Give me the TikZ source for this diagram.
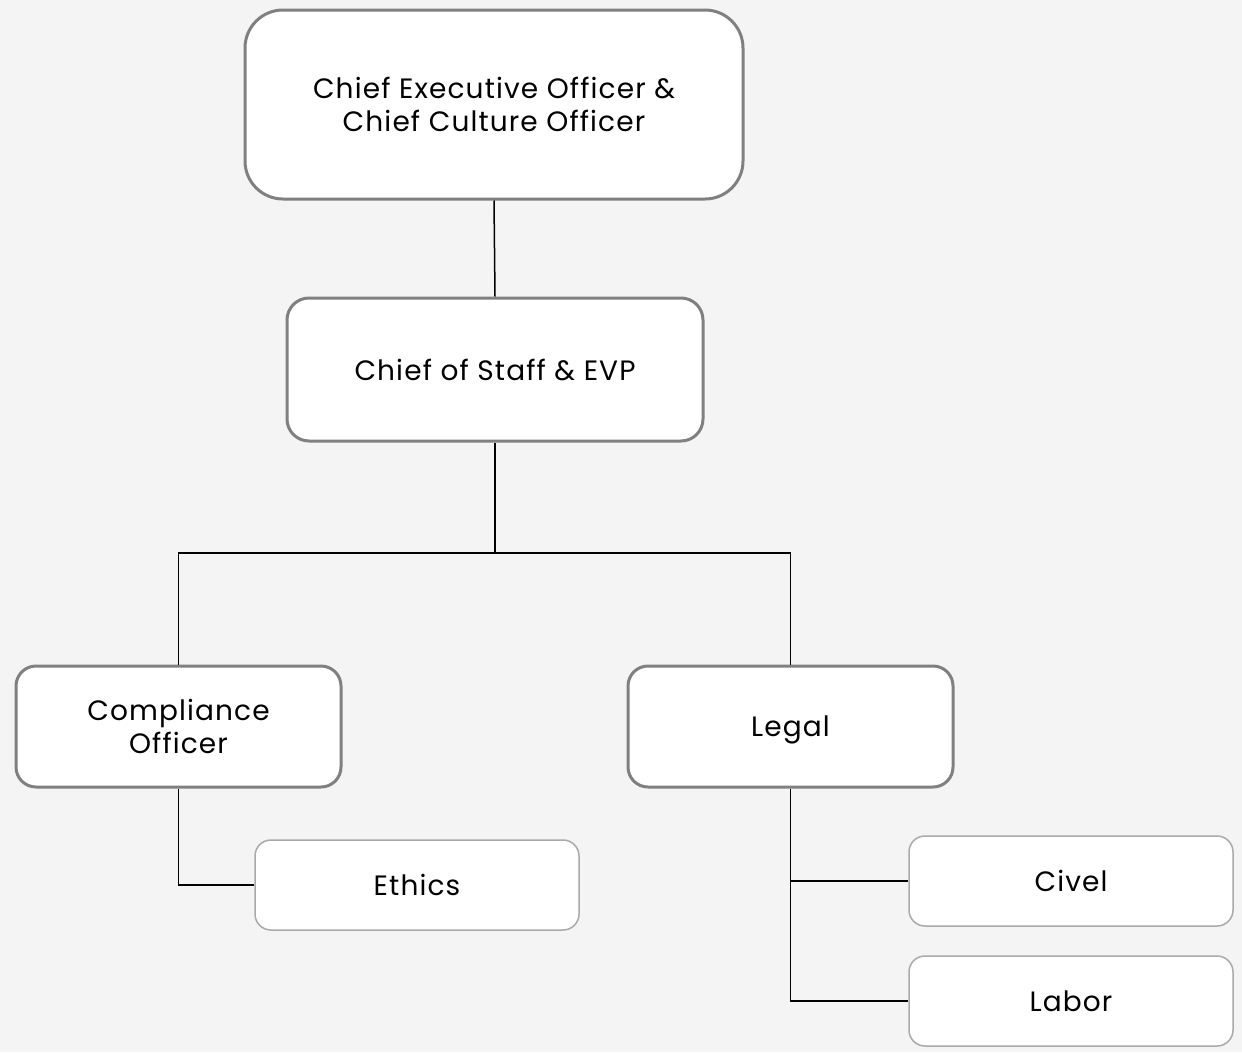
\documentclass[tikz,border=0pt]{standalone}
\usepackage{fontspec}
\setmainfont{Poppins}[LetterSpace=4]
\definecolor{bg}{HTML}{F4F4F4}
\definecolor{bordA}{HTML}{808080}
\definecolor{bordB}{HTML}{AAAAAA}
\begin{document}
\begin{tikzpicture}[x=1pt,y=-1pt,
  mainbox/.style={draw=bordA,line width=3pt,fill=white,align=center,font=\fontsize{28}{33}\selectfont,inner sep=0pt},
  subbox/.style={draw=bordB,line width=1.5pt,fill=white,align=center,font=\fontsize{28}{33}\selectfont,inner sep=0pt,rounded corners=16pt,minimum width=324pt,minimum height=90pt},
  link/.style={draw=black,line width=1.5pt}]
\fill[bg] (0,0) rectangle (1242,1052);
\useasboundingbox (0,0) rectangle (1242,1052);
\node[mainbox,rounded corners=38pt,minimum width=498pt,minimum height=189pt] (ceo) at (494,104.5) {Chief Executive Officer \&\\Chief Culture Officer};
\node[mainbox,rounded corners=22pt,minimum width=416pt,minimum height=143pt] (cos) at (495,369.5) {Chief of Staff \& EVP};
\node[mainbox,rounded corners=20pt,minimum width=325pt,minimum height=121pt] (comp) at (178.5,726.5) {Compliance\\Officer};
\node[mainbox,rounded corners=20pt,minimum width=325pt,minimum height=121pt,text height=20pt,text depth=0pt] (legal) at (790.5,726.5) {Legal};
\node[subbox] (ethics) at (417,885) {Ethics};
\node[subbox] (civel) at (1071,881) {Civel};
\node[subbox] (labor) at (1071,1001) {Labor};
\coordinate (split) at (495,553);
\draw[link] (ceo.south) -- (cos.north);
\draw[link] (cos.south) -- (split) -| (comp.north);
\draw[link] (split) -| (legal.north);
\draw[link] (comp.south) |- (ethics.west);
\draw[link] (legal.south) |- (civel.west);
\draw[link] (legal.south) |- (labor.west);
\end{tikzpicture}
\end{document}
